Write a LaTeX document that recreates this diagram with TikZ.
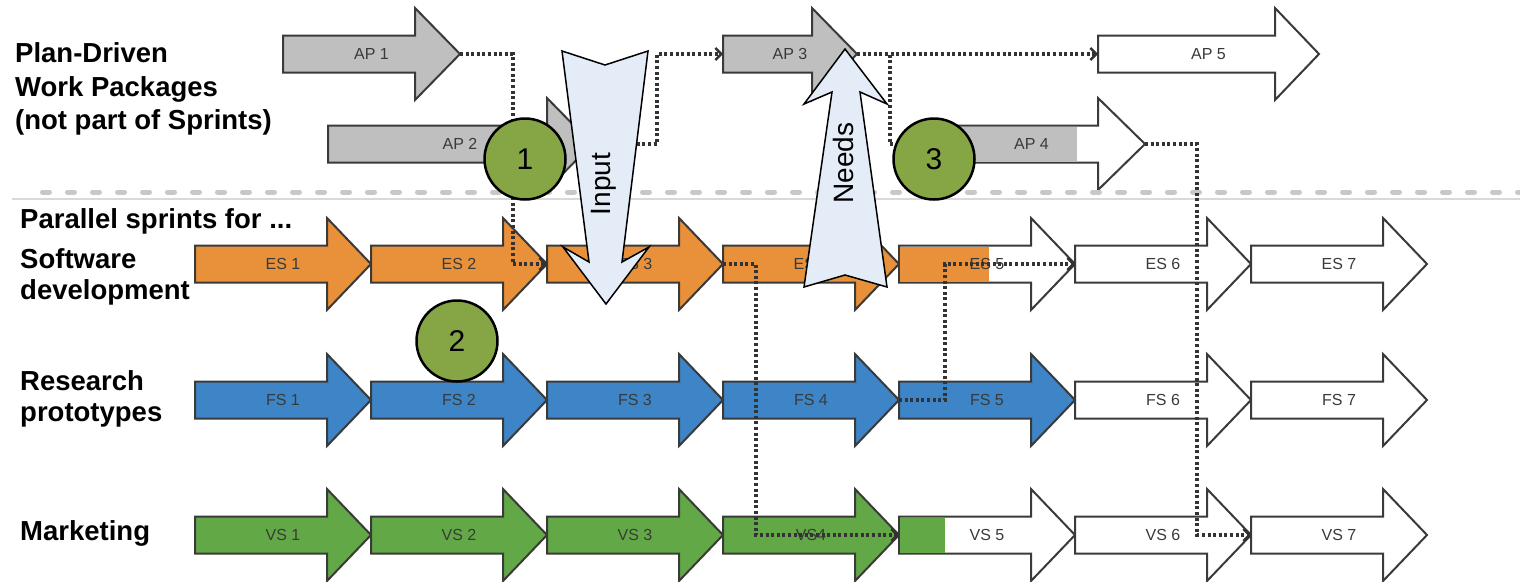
\documentclass[tikz,border=0pt]{standalone}
\usepackage{fontspec}
\setmainfont{Liberation Sans}
\usetikzlibrary{arrows.meta}
\definecolor{esc}{HTML}{E8913A}
\definecolor{fsc}{HTML}{3D85C6}
\definecolor{vsc}{HTML}{62A846}
\definecolor{apc}{HTML}{BFBFBF}
\definecolor{edgec}{HTML}{3A3A3A}
\definecolor{circc}{HTML}{86A646}
\definecolor{bigc}{HTML}{E4ECF7}
\definecolor{sepc}{HTML}{C8C8C8}
\definecolor{linec}{HTML}{D9D9D9}
\definecolor{dotc}{HTML}{333333}
\tikzset{
  shp/.style={draw=edgec, line width=2pt, line join=miter},
  lbl/.style={font=\fontsize{16}{16}\selectfont, text=edgec, inner sep=0pt},
  conn/.style={draw=dotc, line width=3.2pt, dash pattern=on 3pt off 2.6pt,
    -{Straight Barb[length=6pt,width=12pt,line width=2.4pt]}},
  numc/.style={circle, minimum size=81pt, inner sep=0pt, fill=circc, draw=black,
    line width=2.5pt, font=\fontsize{30}{30}\selectfont},
  bigarrow/.style={fill=bigc, draw=black, line width=1.5pt, line join=miter},
  bigtxt/.style={font=\fontsize{28}{28}\selectfont, inner sep=0pt, rotate=90},
  side/.style={font=\fontsize{27.5}{27.5}\selectfont\bfseries, anchor=base west, inner sep=0pt},
}
% #1 name, #2 x, #3 y, #4 body length, #5 head length, #6 fill, #7 label
\newcommand{\spr}[7]{%
  \filldraw[shp, fill=#6] (#2,{#3-18.5}) -- ++(#4,0) -- ++(0,-27.5) -- ({#2+#4+#5},#3)
    -- ({#2+#4},{#3+46}) -- ++(0,-27.5) -- (#2,{#3+18.5}) -- cycle;
  \coordinate (#1-tail) at (#2,#3);
  \coordinate (#1-tip) at ({#2+#4+#5},#3);
  \node[lbl] (#1) at ({#2+(#4+#5)/2},#3) {#7};
}
% partially filled: #6 colour, #7 end x of fill, #8 label
\newcommand{\sprp}[8]{%
  \filldraw[shp, fill=white] (#2,{#3-18.5}) -- ++(#4,0) -- ++(0,-27.5) -- ({#2+#4+#5},#3)
    -- ({#2+#4},{#3+46}) -- ++(0,-27.5) -- (#2,{#3+18.5}) -- cycle;
  \fill[#6] ({#2+1},{#3-17.5}) rectangle (#7,{#3+17.5});
  \coordinate (#1-tail) at (#2,#3);
  \coordinate (#1-tip) at ({#2+#4+#5},#3);
  \node[lbl] (#1) at ({#2+(#4+#5)/2},#3) {#8};
}
\begin{document}
\begin{tikzpicture}[x=1pt,y=-1pt]
\useasboundingbox[fill=white] (0,0) rectangle (1520,581);

% side texts
\node[side] (t1) at (15,62) {Plan-Driven};
\node[side] (t2) at (15,96) {Work Packages};
\node[side] (t3) at (15,129) {(not part of Sprints)};
\node[side] (t4) at (20,228) {Parallel sprints for ...};
\node[side] (t5) at (20,268) {Software};
\node[side] (t6) at (20,299) {development};
\node[side] (t7) at (20,390) {Research};
\node[side] (t8) at (20,421) {prototypes};
\node[side] (t9) at (20,540) {Marketing};

% plan-driven work packages
\spr{AP1}{283}{54}{132}{45}{apc}{AP 1}
\spr{AP2}{328}{144}{219}{45}{apc}{AP 2}
\spr{AP3}{723}{54}{89}{45}{apc}{AP 3}
\sprp{AP4}{918}{144}{180}{47}{apc}{1077}{AP 4}
\spr{AP5}{1098}{54}{177}{44}{white}{AP 5}

% separator
\coordinate (s1) at (42.5,192); \coordinate (s2) at (1520,192);
\draw[sepc, line width=5pt, line cap=round, dash pattern=on 7pt off 18pt] (s1) -- (s2);
\coordinate (s3) at (12,199); \coordinate (s4) at (1520,199);
\draw[linec, line width=2pt] (s3) -- (s4);

% software development sprints
\spr{ES1}{195}{264}{132}{44}{esc}{ES 1}
\spr{ES2}{371}{264}{132}{44}{esc}{ES 2}
\spr{ES3}{547}{264}{132}{44}{esc}{ES 3}
\spr{ES4}{723}{264}{132}{44}{esc}{ES 4}
\sprp{ES5}{899}{264}{132}{44}{esc}{989}{ES 5}
\spr{ES6}{1075}{264}{132}{44}{white}{ES 6}
\spr{ES7}{1251}{264}{132}{44}{white}{ES 7}

% research prototypes sprints
\spr{FS1}{195}{400}{132}{44}{fsc}{FS 1}
\spr{FS2}{371}{400}{132}{44}{fsc}{FS 2}
\spr{FS3}{547}{400}{132}{44}{fsc}{FS 3}
\spr{FS4}{723}{400}{132}{44}{fsc}{FS 4}
\spr{FS5}{899}{400}{132}{44}{fsc}{FS 5}
\spr{FS6}{1075}{400}{132}{44}{white}{FS 6}
\spr{FS7}{1251}{400}{132}{44}{white}{FS 7}

% marketing sprints
\spr{VS1}{195}{535}{132}{44}{vsc}{VS 1}
\spr{VS2}{371}{535}{132}{44}{vsc}{VS 2}
\spr{VS3}{547}{535}{132}{44}{vsc}{VS 3}
\spr{VS4}{723}{535}{132}{44}{vsc}{VS4}
\sprp{VS5}{899}{535}{132}{44}{vsc}{945}{VS 5}
\spr{VS6}{1075}{535}{132}{44}{white}{VS 6}
\spr{VS7}{1251}{535}{132}{44}{white}{VS 7}

% dependency connectors
\coordinate (k1) at (513,0);
\coordinate (k2) at (657,0);
\coordinate (k3) at (890,0);
\coordinate (k4) at (1197,0);
\coordinate (k5) at (756,0);
\coordinate (k6) at (945,0);
\draw[conn] (AP1-tip) -- (AP1-tip -| k1) -- (ES3-tail -| k1) -- (ES3-tail);
\draw[conn] (AP2-tip) -- (AP2-tip -| k2) -- (AP3-tail -| k2) -- (AP3-tail);
\draw[conn] (AP3-tip) -- (AP5-tail);
\draw[conn] (AP3-tip) -- (AP3-tip -| k3) -- (AP4-tail -| k3) -- (AP4-tail);
\draw[conn] (AP4-tip) -- (AP4-tip -| k4) -- (VS7-tail -| k4) -- (VS7-tail);
\draw[conn] (ES3-tip) -- (ES3-tip -| k5) -- (VS5-tail -| k5) -- (VS5-tail);
\draw[conn] (FS4-tip) -- (FS4-tip -| k6) -- (ES6-tail -| k6) -- (ES6-tail);

% numbered circles
\node[numc] (n1) at (525,159) {1};
\node[numc] (n2) at (457,341) {2};
\node[numc] (n3) at (934,159) {3};

% Input arrow (down)
\filldraw[bigarrow] (562,51) -- (605,65) -- (648,51) -- (622,262) -- (649,247)
  -- (606,304) -- (563,247) -- (589,262) -- cycle;
\node[bigtxt] (input) at (604,184) {Input};

% Needs arrow (up)
\filldraw[bigarrow] (845,49) -- (887,104) -- (860,92) -- (887,287) -- (845,275)
  -- (804,287) -- (832,92) -- (804,104) -- cycle;
\node[bigtxt] (needs) at (843,163) {Needs};
\end{tikzpicture}
\end{document}
